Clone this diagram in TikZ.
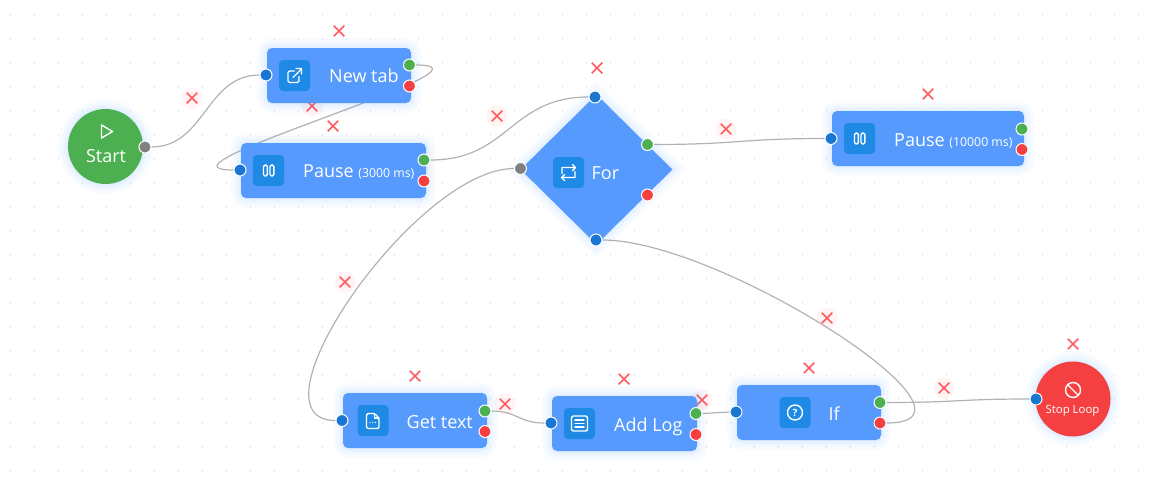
\documentclass[tikz,border=0pt]{standalone}
\usepackage{fontspec}
\setmainfont{Open Sans}
\usetikzlibrary{backgrounds,calc,shapes.geometric,shapes.misc}
\definecolor{taskblue}{HTML}{569AFD}
\definecolor{iconblue}{HTML}{1F8AE6}
\definecolor{glowblue}{HTML}{4A9CFF}
\definecolor{inblue}{HTML}{1976D2}
\definecolor{okgreen}{HTML}{4CAF50}
\definecolor{failred}{HTML}{F44040}
\definecolor{startgray}{HTML}{808080}
\definecolor{linkgray}{HTML}{B2B2B2}
\definecolor{delred}{HTML}{FF5A60}
\definecolor{delpink}{HTML}{FFF3F3}
\definecolor{griddot}{HTML}{E4E9F3}
\tikzset{
softglow/.style={preaction={draw=glowblue,draw opacity=.03,line width=20pt},preaction={draw=glowblue,draw opacity=.04,line width=14pt},preaction={draw=glowblue,draw opacity=.05,line width=8pt},preaction={draw=glowblue,draw opacity=.06,line width=3pt}},
taskbox/.style={draw=none,fill=taskblue,rounded corners=5pt,minimum width=#1,minimum height=55pt,inner sep=0pt,softglow},
roundbox/.style={circle,fill=#1,minimum size=75pt,inner sep=0pt,softglow},
iconbox/.style={fill=iconblue,rounded corners=4pt,minimum size=31pt,inner sep=0pt},
port/.style={circle,fill=#1,draw=white,line width=1pt,minimum size=12pt,inner sep=0pt},
tasktext/.style={text=white,font=\fontsize{18}{20}\selectfont,inner sep=0pt,anchor=base west},
link/.style={draw=linkgray,line width=1.2pt},
delx/.style={cross out,draw=delred,line width=1.5pt,minimum size=9pt,inner sep=0pt},
delhalo/.style={circle,fill=delpink,minimum size=21pt,inner sep=0pt},
iconline/.style={draw=white,line width=1.4pt,line cap=round,line join=round},
linkicon/.pic={
\draw[iconline,rounded corners=1.5pt] (0,-4.5) -- (-6.5,-4.5) -- (-6.5,7) -- (4.5,7) -- (4.5,1);
\draw[iconline] (-1.5,2) -- (7,-6.5) (1.5,-7) -- (7,-7) -- (7,-1.5);
},
pauseicon/.pic={
\draw[iconline,rounded corners=1.5pt] (-5,-5.5) rectangle (-1.2,5.5);
\draw[iconline,rounded corners=1.5pt] (1.5,-5.5) rectangle (5.3,5.5);
},
repeaticon/.pic={
\draw[iconline] (-6.5,1) -- (-6.5,-5) -- (7,-5) (4,-8) -- (7,-5) -- (4,-2);
\draw[iconline] (6.5,-1) -- (6.5,5) -- (-7,5) (-4,2) -- (-7,5) -- (-4,8);
},
fileicon/.pic={
\draw[iconline,rounded corners=1.5pt] (-6.5,-7) -- (1.5,-7) -- (6,-2.5) -- (6,8) -- (-6.5,8) -- cycle;
\draw[iconline] (1.5,-7) -- (1.5,-2.5) -- (6,-2.5);
\fill[white] (-3,2) circle (.7) (-.3,2) circle (.7) (2.4,2) circle (.7);
},
logicon/.pic={
\draw[iconline,rounded corners=2pt] (-8,-7.5) rectangle (8,7.5);
\draw[iconline] (-4.5,-3.5) -- (4.5,-3.5) (-4.5,0) -- (4.5,0) (-4.5,3.5) -- (4.5,3.5);
},
ificon/.pic={
\draw[iconline] (0,0) circle (7.5);
\node[text=white,inner sep=0pt,font=\fontsize{10}{10}\selectfont\bfseries] (-ifmark) at (0,0) {?};
},
playicon/.pic={
\draw[iconline] (-5,-6.5) -- (6,0) -- (-5,6.5) -- cycle;
},
stopicon/.pic={
\draw[iconline] (0,0) circle (7.5) (-5.3,-5.3) -- (5.3,5.3);
},
}
\begin{document}
\begin{tikzpicture}[x=1pt,y=-1pt]
\useasboundingbox (0,0) rectangle (1153,483);
% nodes
\node[roundbox=okgreen] (start) at (105.5,146.5) {};
\node[taskbox=144pt] (newtab) at (339,75.5) {};
\node[taskbox=185pt] (pausea) at (333.5,170.5) {};
\node[diamond,aspect=1,fill=taskblue,minimum width=152pt,minimum height=150pt,inner sep=0pt,softglow] (for) at (596.5,169.5) {};
\node[taskbox=192pt] (pauseb) at (928,138.5) {};
\node[taskbox=144pt] (gettext) at (415,420.5) {};
\node[taskbox=145pt] (addlog) at (624.5,423.5) {};
\node[taskbox=144pt] (if) at (809,412.5) {};
\node[roundbox=failred] (stoploop) at (1073,399) {};
% icons
\node[iconbox] (newtabicon) at (294.5,75.5) {};
\node[iconbox] (pauseaicon) at (268.5,170.5) {};
\node[iconbox] (foricon) at (568.5,172.5) {};
\node[iconbox] (pausebicon) at (859.5,138.5) {};
\node[iconbox] (gettexticon) at (373,420.5) {};
\node[iconbox] (addlogicon) at (579.5,423.5) {};
\node[iconbox] (ificon) at (795,412.5) {};
\pic at (newtabicon) {linkicon};
\pic at (pauseaicon) {pauseicon};
\pic at (foricon) {repeaticon};
\pic at (pausebicon) {pauseicon};
\pic at (gettexticon) {fileicon};
\pic at (addlogicon) {logicon};
\pic at (ificon) {ificon};
\pic at (106.5,131.5) {playicon};
\pic at (1073,390) {stopicon};
% labels
\node[tasktext,anchor=base] (startlabel) at (106,162.5) {Start};
\node[tasktext] (newtablabel) at (329,82.7) {New tab};
\node[tasktext] (pausealabel) at (303,177.7) {Pause {\fontsize{12.3}{14}\selectfont (3000 ms)}};
\node[tasktext] (forlabel) at (591.5,179.3) {For};
\node[tasktext] (pauseblabel) at (894,146) {Pause {\fontsize{12.3}{14}\selectfont (10000 ms)}};
\node[tasktext] (gettextlabel) at (406.5,428.3) {Get text};
\node[tasktext] (addloglabel) at (614,431) {Add Log};
\node[tasktext] (iflabel) at (828.5,420) {If};
\node[tasktext,anchor=base,font=\fontsize{11.4}{14}\selectfont] (stoplabel) at (1072.5,413.3) {Stop Loop};
% ports
\node[port=startgray] (startout) at (145,147) {};
\node[port=inblue] (newtabin) at (266,75) {};
\node[port=okgreen] (newtabok) at (409.5,65) {};
\node[port=failred] (newtabfail) at (409.5,86) {};
\node[port=inblue] (pauseain) at (240,170) {};
\node[port=okgreen] (pauseaok) at (424,160) {};
\node[port=failred] (pauseafail) at (424,181) {};
\node[port=inblue] (fortop) at (595,97) {};
\node[port=startgray] (forleft) at (520.5,168.5) {};
\node[port=okgreen] (forok) at (647.5,144.5) {};
\node[port=failred] (forfail) at (647.5,195) {};
\node[port=inblue] (forbottom) at (596,240) {};
\node[port=inblue] (pausebin) at (831,138.5) {};
\node[port=okgreen] (pausebok) at (1022,129) {};
\node[port=failred] (pausebfail) at (1022,149.5) {};
\node[port=inblue] (gettextin) at (342,420.5) {};
\node[port=okgreen] (gettextok) at (485,411) {};
\node[port=failred] (gettextfail) at (485,431.5) {};
\node[port=inblue] (addlogin) at (551,423) {};
\node[port=okgreen] (addlogok) at (696,413.5) {};
\node[port=failred] (addlogfail) at (696,434.5) {};
\node[port=inblue] (ifin) at (736,412) {};
\node[port=okgreen] (ifok) at (880,402.5) {};
\node[port=failred] (iffail) at (880,423) {};
\node[port=inblue] (stopin) at (1036,399) {};
\begin{scope}[on background layer]
% grid dots
\foreach \dotx in {10.5,34.5,...,1150}
\foreach \doty in {15,39,...,480}
\fill[griddot] (\dotx,\doty) circle (1);
% delete marks
\foreach \px/\py [count=\i] in {192/98,312/106,497/116,726/129,345/282,827/318,505/404,702/400,944/388}{
\node[delhalo] (halo\i) at (\px,\py) {};
\node[delx] (haloX\i) at (\px,\py) {};
}
\foreach \px/\py [count=\i] in {339/31,333/126,597/68,928/94,415/376,624/379,809/368,1073/344}
\node[delx] (mark\i) at (\px,\py) {};
% links
\draw[link] (startout) .. controls +(60,0) and +(-60,0) .. (newtabin);
\draw[link] (newtabok) .. controls +(105,0) and +(-105,0) .. (pauseain);
\draw[link] (pauseaok) .. controls +(85,0) and +(-85,0) .. (fortop);
\draw[link] (forok) .. controls +(90,0) and +(-90,0) .. (pausebin);
\draw[link] (forleft) .. controls +(-105,0) and +(-100,0) .. (gettextin);
\draw[link] (forbottom) .. controls +(125,0) and +(125,0) .. (iffail);
\draw[link] (gettextok) .. controls +(33,0) and +(-33,0) .. (addlogin);
\draw[link] (addlogok) .. controls +(20,0) and +(-20,0) .. (ifin);
\draw[link] (ifok) .. controls +(78,0) and +(-78,0) .. (stopin);
\end{scope}
\end{tikzpicture}
\end{document}
